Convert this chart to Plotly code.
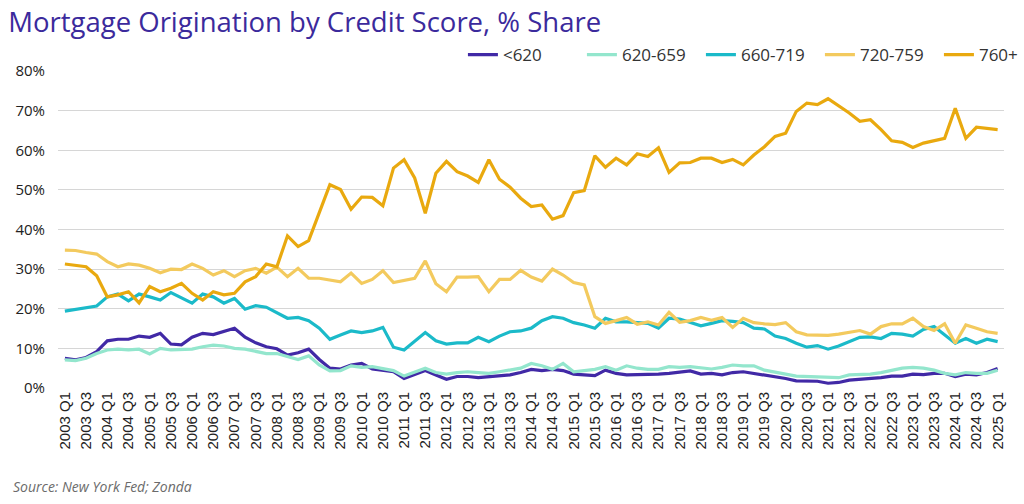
import plotly.graph_objects as go

years = list(range(2003, 2026))
quarters = [f"{y} Q{q}" for y in years for q in (1, 2, 3, 4)][:89]

s_lt620 = [7.5, 7.1, 7.7, 9.2, 11.9, 12.3, 12.3, 13.1, 12.8, 13.8, 11.1, 10.9, 12.8, 13.8, 13.5,
           14.4, 15.1, 12.8, 11.4, 10.4, 9.9, 8.3, 8.9, 9.8, 7.2, 5.0, 4.8, 5.8, 6.2, 4.8,
           4.5, 4.1, 2.4, 3.3, 4.4, 3.3, 2.2, 2.9, 2.9, 2.6, 2.9, 3.1, 3.3, 3.9,
           4.7, 4.4, 4.7, 4.4, 3.5, 3.3, 3.1, 4.5, 3.7, 3.3, 3.3, 3.5, 3.5, 3.7, 3.9,
           4.3, 3.5, 3.7, 3.3, 3.9, 4.1, 3.7, 3.3, 3.0, 2.4, 1.8, 1.7, 1.7, 1.2, 1.4,
           2.0, 2.2, 2.2, 2.6, 3.0, 3.0, 3.5, 3.4, 3.7, 3.7, 2.9, 3.5, 3.3, 3.9, 4.9]

s_620_659 = [7.1, 6.9, 7.5, 8.7, 9.6, 9.8, 9.6, 9.8, 8.6, 10.0, 9.6, 9.6, 9.8, 10.4, 10.8,
             10.6, 10.0, 9.8, 9.2, 8.7, 8.7, 7.9, 7.2, 8.1, 5.8, 4.3, 4.4, 5.6, 5.2, 5.4,
             5.0, 4.4, 3.0, 3.9, 5.0, 3.9, 3.5, 3.9, 4.1, 3.9, 3.7, 4.1, 4.5, 5.0,
             6.2, 5.6, 4.7, 6.2, 4.1, 4.5, 4.7, 5.4, 4.5, 5.6, 5.0, 4.7, 4.7, 5.4, 5.2,
             5.4, 5.0, 4.8, 5.2, 5.8, 5.6, 5.6, 4.5, 3.9, 3.5, 3.0, 2.9, 2.7, 2.6, 2.6,
             3.3, 3.3, 3.5, 3.9, 4.5, 5.0, 5.2, 5.0, 4.5, 3.7, 3.3, 3.9, 3.7, 3.7, 4.5]

s_660_719 = [19.4, 19.9, 20.4, 20.7, 23.0, 23.7, 22.0, 23.7, 23.0, 22.2, 24.1, 22.8, 21.4, 23.7, 23.0,
             21.4, 22.6, 19.9, 20.8, 20.4, 19.0, 17.6, 17.8, 17.0, 15.1, 12.3, 13.4, 14.4, 14.0, 14.4,
             15.3, 10.3, 9.6, 11.9, 14.0, 11.9, 11.1, 11.4, 11.4, 12.8, 11.7, 13.1, 14.2, 14.4,
             15.1, 17.0, 18.0, 17.6, 16.5, 15.9, 15.1, 17.6, 16.7, 16.7, 16.5, 16.3, 15.1, 17.6, 17.4,
             16.5, 15.7, 16.3, 17.0, 16.8, 16.5, 15.1, 14.9, 13.1, 12.5, 11.3, 10.3, 10.7, 9.8, 10.6,
             11.7, 12.8, 12.9, 12.5, 13.8, 13.6, 13.1, 14.8, 15.5, 13.4, 11.3, 12.5, 11.3, 12.3, 11.7]

s_720_759 = [34.8, 34.7, 34.2, 33.8, 31.9, 30.6, 31.3, 31.0, 30.2, 29.1, 30.0, 29.9, 31.3, 30.2, 28.5,
             29.6, 28.1, 29.6, 30.2, 29.0, 30.5, 28.1, 30.2, 27.7, 27.7, 27.3, 26.8, 29.0, 26.4, 27.4,
             29.6, 26.6, 27.1, 27.7, 32.1, 26.3, 24.3, 28.0, 28.0, 28.1, 24.3, 27.4, 27.4, 29.7,
             28.0, 27.0, 30.0, 28.5, 26.6, 26.0, 18.0, 16.3, 17.0, 17.8, 16.1, 16.7, 15.9, 19.1, 16.6,
             17.0, 17.8, 17.1, 17.8, 15.3, 17.6, 16.5, 16.2, 16.0, 16.5, 14.2, 13.4, 13.3, 13.3, 13.6,
             14.1, 14.5, 13.6, 15.5, 16.2, 16.2, 17.6, 15.5, 14.5, 16.2, 11.3, 15.9, 15.1, 14.2, 13.8]

s_760 = [31.3, 31.0, 30.6, 28.3, 23.0, 23.5, 24.3, 21.5, 25.6, 24.3, 25.2, 26.4, 23.9, 22.2, 24.3,
         23.5, 23.9, 26.8, 28.1, 31.3, 30.6, 38.4, 35.7, 37.2, 44.1, 51.3, 50.1, 45.1, 48.2, 48.1,
         46.0, 55.5, 57.6, 53.0, 44.1, 54.2, 57.2, 54.6, 53.5, 51.9, 57.6, 52.7, 50.7, 47.9,
         45.8, 46.2, 42.6, 43.5, 49.3, 49.8, 58.6, 55.7, 58.0, 56.3, 59.1, 58.4, 60.6, 54.4, 56.8,
         56.9, 58.0, 58.0, 56.9, 57.7, 56.3, 58.8, 60.9, 63.5, 64.3, 69.8, 71.9, 71.5, 73.0, 71.2,
         69.4, 67.3, 67.7, 65.2, 62.4, 62.0, 60.7, 61.8, 62.4, 63.0, 70.6, 63.0, 65.8, 65.6, 65.2]

series_names = ["<620", "620-659", "660-719", "720-759", "760+"]
series_values = [s_lt620, s_620_659, s_660_719, s_720_759, s_760]
colors = ["#4129a6", "#93e6cd", "#1bbac9", "#f3ca5e", "#e9a90f"]

y_ticks = [0, 10, 20, 30, 40, 50, 60, 70, 80]
y_tick_text = [f"{v}%" for v in y_ticks]

x_idx = list(range(len(quarters)))
tick_idx = x_idx[::2]
tick_text = quarters[::2]

fig = go.Figure()
for name, vals, col in zip(series_names, series_values, colors):
    fig.add_trace(go.Scatter(
        x=x_idx, y=vals, name=name, mode="lines",
        line=dict(color=col, width=3.2),
        hovertemplate="%{text}: %{y:.1f}%<extra>" + name + "</extra>",
        text=quarters,
    ))

fig.update_layout(
    width=1024, height=504,
    margin=dict(l=58, r=20, t=71, b=116, autoexpand=False),
    paper_bgcolor="white", plot_bgcolor="white",
    title=dict(
        text="Mortgage Origination by Credit Score, % Share",
        x=0.008, xanchor="left", y=0.956, yanchor="middle",
        font=dict(family="Open Sans", size=27.5, color="#3b2a9c"),
    ),
    legend=dict(
        orientation="h", x=1.057, xanchor="right", y=1.05, yanchor="middle",
        font=dict(family="Open Sans", size=17, color="#333333"),
        itemwidth=30, traceorder="normal",
        entrywidth=74, entrywidthmode="pixels",
    ),
    showlegend=True,
    annotations=[dict(
        text="<i>Source: New York Fed; Zonda</i>",
        xref="paper", yref="paper", x=-0.05, y=-0.31, xanchor="left", yanchor="middle",
        showarrow=False, font=dict(family="Open Sans", size=14, color="#6b6b6b"),
    )],
)

fig.update_xaxes(
    range=[-0.65, 88.6], tickmode="array", tickvals=tick_idx, ticktext=tick_text,
    tickangle=-90, showgrid=False, zeroline=False, showline=False, ticks="",
    tickfont=dict(family="Liberation Sans", size=15, color="#222222"),
)
fig.update_yaxes(
    range=[0, 80], tickmode="array", tickvals=y_ticks, ticktext=y_tick_text,
    showgrid=True, gridcolor="#d6d6d6", gridwidth=1,
    zeroline=False, showline=False, ticks="", ticklabelstandoff=12,
    tickfont=dict(family="Open Sans", size=15, color="#222222"),
)

fig.write_html("out.html", config={"displayModeBar": False},
               post_script="document.body.style.margin='0';")
